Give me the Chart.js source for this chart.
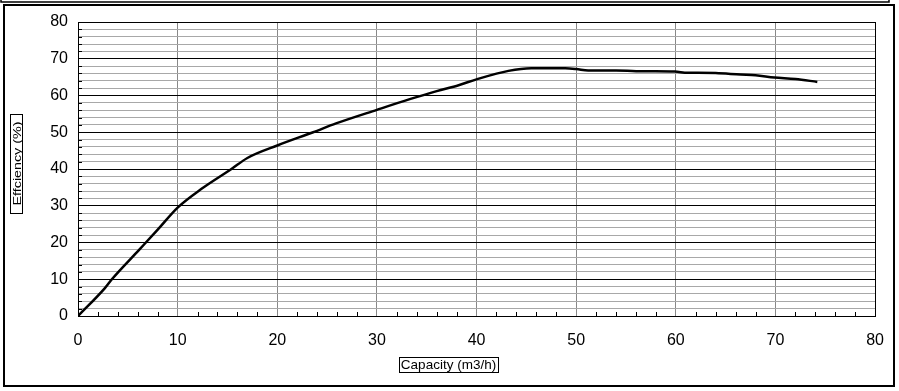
<!DOCTYPE html>
<html>
<head>
<meta charset="utf-8">
<script src="https://cdn.jsdelivr.net/npm/chart.js@4/dist/chart.umd.min.js"></script>
<style>
  html, body { margin: 0; padding: 0; background: #fff; }
  canvas { display: block; }
</style>
</head>
<body>
<canvas id="effChart" width="899" height="391"></canvas>
<script>
const capacity = [0, 2.7, 3.4, 6.2, 8, 10, 12.4, 15.4, 17, 20, 23.6, 25.9, 30, 33.3, 36, 38.2, 40, 43.2, 45.5, 48.9, 50, 51.2, 54, 56.9, 59.9, 61.2, 62.2, 64, 66.5, 68, 69.9, 72, 74.2];
const efficiency = [0, 7.6, 10, 18.2, 23.5, 29.5, 34.6, 40, 43, 46.4, 50, 52.4, 56.1, 59, 61.2, 62.8, 64.4, 66.7, 67.4, 67.4, 67.2, 66.8, 66.8, 66.6, 66.5, 66.2, 66.2, 66.1, 65.7, 65.5, 64.9, 64.5, 63.7];
const xTitle = "Capacity (m3/h)";
const yTitle = "Effciency (%)";

const FontFamily = "'Liberation Sans', Arial, sans-serif";

const labelEveryTen = v => (v % 10 === 0 ? v : "");

// inward minor ticks, plot frame, boxed axis titles and the outer frame
const decorations = {
    id: "decorations",
    afterDraw(chart) {
        const { ctx, chartArea: a, scales } = chart;
        ctx.save();
        ctx.strokeStyle = "#000";
        ctx.lineWidth = 1;

        ctx.beginPath();
        for (let v = 2; v < 80; v += 2) {
            if (v % 10 === 0) continue;
            const px = Math.round(scales.x.getPixelForValue(v)) + 0.5;
            ctx.moveTo(px, a.bottom);
            ctx.lineTo(px, a.bottom - 4);
            const py = Math.round(scales.y.getPixelForValue(v)) + 0.5;
            ctx.moveTo(a.left, py);
            ctx.lineTo(a.left + 4, py);
        }
        ctx.stroke();

        ctx.strokeRect(Math.round(a.left) + 0.5, Math.round(a.top) + 0.5,
            Math.round(a.right - a.left), Math.round(a.bottom - a.top));

        // boxed axis titles
        ctx.fillStyle = "#000";
        ctx.textAlign = "center";
        ctx.textBaseline = "middle";

        ctx.font = "13.5px " + FontFamily;
        ctx.fillText(xTitle, 448.5, 365);
        ctx.strokeRect(399.5, 357.5, 99, 15);

        ctx.font = "11px " + FontFamily;
        ctx.save();
        ctx.translate(17, 163.5);
        ctx.rotate(-Math.PI / 2);
        ctx.scale(1.3, 1);
        ctx.fillText(yTitle, 0, 0.5);
        ctx.restore();
        ctx.strokeRect(10.5, 114.5, 12, 99);

        // outer frames
        ctx.lineWidth = 2;
        ctx.strokeRect(4, 5, 890, 381);
        ctx.lineWidth = 1.5;
        ctx.beginPath();
        ctx.moveTo(1, 0);
        ctx.lineTo(1, 2);
        ctx.lineTo(889, 2);
        ctx.lineTo(889, 0);
        ctx.stroke();

        ctx.restore();
    }
};

new Chart(document.getElementById("effChart"), {
    type: "line",
    data: {
        datasets: [{
            data: capacity.map((x, i) => ({ x, y: efficiency[i] })),
            borderColor: "#000",
            borderWidth: 2.5,
            pointRadius: 0,
            fill: false,
            cubicInterpolationMode: "monotone",
        }]
    },
    options: {
        responsive: false,
        animation: false,
        layout: { padding: { top: 22, right: 19, left: 0, bottom: 0 } },
        plugins: { legend: { display: false }, tooltip: { enabled: false } },
        scales: {
            x: {
                type: "linear",
                min: 0,
                max: 80,
                afterFit: s => { s.height = 75; },
                ticks: {
                    stepSize: 2,
                    autoSkip: false,
                    maxRotation: 0,
                    callback: labelEveryTen,
                    color: "#000",
                    padding: 15,
                    font: { family: FontFamily, size: 16 },
                },
                grid: {
                    drawTicks: false,
                    lineWidth: 1,
                    color: c => (c.tick && c.tick.value % 10 === 0 ? "#888888" : "rgba(0,0,0,0)"),
                },
                border: { display: true, color: "#000", width: 1 },
            },
            y: {
                min: 0,
                max: 80,
                afterFit: s => { s.width = 78; },
                ticks: {
                    stepSize: 2,
                    autoSkip: false,
                    callback: labelEveryTen,
                    color: "#000",
                    padding: 10,
                    font: { family: FontFamily, size: 16 },
                },
                grid: {
                    drawTicks: false,
                    lineWidth: 1,
                    color: c => (c.tick && c.tick.value % 10 === 0 ? "#000" : "#a8a8a8"),
                },
                border: { display: true, color: "#000", width: 1 },
            },
        },
    },
    plugins: [decorations],
});
</script>
</body>
</html>
